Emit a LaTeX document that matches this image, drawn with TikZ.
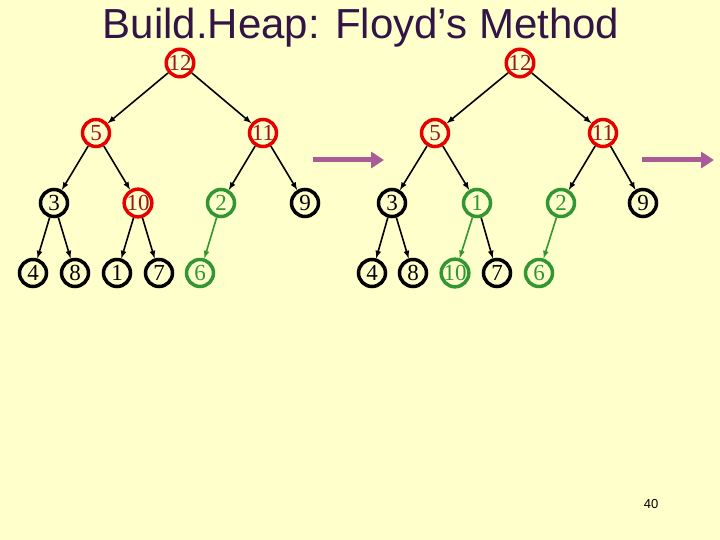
\documentclass[tikz,border=0pt]{standalone}
\usepackage{fontspec}
\setmainfont{Liberation Serif}
\newfontfamily\titlefont{Liberation Sans}
\usetikzlibrary{arrows.meta}
\definecolor{bg}{RGB}{255,255,204}
\definecolor{hred}{RGB}{230,0,0}
\definecolor{hredtxt}{RGB}{160,20,20}
\definecolor{hgreen}{RGB}{50,150,50}
\definecolor{ttl}{RGB}{50,20,70}
\definecolor{arr}{RGB}{170,90,150}
\begin{document}
\begin{tikzpicture}[x=1pt,y=-1pt,
  hn/.style={circle,draw=black,line width=3.5pt,minimum size=27pt,inner sep=0pt,font=\fontsize{23}{23}\selectfont,text=black},
  rn/.style={hn,draw=hred,text=hredtxt},
  gn/.style={hn,draw=hgreen,text=hgreen},
  ed/.style={-latex,line width=1.6pt,black},
  ge/.style={-latex,line width=1.6pt,hgreen},
  bigarr/.style={-{Triangle[length=13pt,width=16pt]},line width=5pt,arr}]
\fill[bg] (0,0) rectangle (720,540);
\useasboundingbox (0,0) rectangle (720,540);
\node[font=\titlefont\fontsize{42}{42}\selectfont,text=ttl] (title) at (361,28) {Build.Heap: Floyd’s Method};
% left tree
\node[rn] (a1) at (180,63) {12};
\node[rn] (a2) at (96,133) {5};
\node[rn] (a3) at (263,133) {11};
\node[hn] (a4) at (54,203) {3};
\node[rn] (a5) at (138,203) {10};
\node[gn] (a6) at (221,203) {2};
\node[hn] (a7) at (305,203) {9};
\node[hn] (a8) at (33,273) {4};
\node[hn] (a9) at (75,273) {8};
\node[hn] (a10) at (117,273) {1};
\node[hn] (a11) at (159,273) {7};
\node[gn] (a12) at (200,273) {6};
\draw[ed] (a1)--(a2); \draw[ed] (a1)--(a3);
\draw[ed] (a2)--(a4); \draw[ed] (a2)--(a5);
\draw[ed] (a3)--(a6); \draw[ed] (a3)--(a7);
\draw[ed] (a4)--(a8); \draw[ed] (a4)--(a9);
\draw[ed] (a5)--(a10); \draw[ed] (a5)--(a11);
\draw[ge] (a6)--(a12);
% right tree
\node[rn] (b1) at (520,63) {12};
\node[rn] (b2) at (435,133) {5};
\node[rn] (b3) at (603,133) {11};
\node[hn] (b4) at (392,203) {3};
\node[gn] (b5) at (477,203) {1};
\node[gn] (b6) at (561,203) {2};
\node[hn] (b7) at (643,203) {9};
\node[hn] (b8) at (372,273) {4};
\node[hn] (b9) at (413,273) {8};
\node[gn] (b10) at (455,273) {10};
\node[hn] (b11) at (497,273) {7};
\node[gn] (b12) at (539,273) {6};
\draw[ed] (b1)--(b2); \draw[ed] (b1)--(b3);
\draw[ed] (b2)--(b4); \draw[ed] (b2)--(b5);
\draw[ed] (b3)--(b6); \draw[ed] (b3)--(b7);
\draw[ed] (b4)--(b8); \draw[ed] (b4)--(b9);
\draw[ge] (b5)--(b10); \draw[ed] (b5)--(b11);
\draw[ge] (b6)--(b12);
% arrows
\coordinate (p1) at (313,160); \coordinate (p2) at (384,160);
\coordinate (q1) at (642,160); \coordinate (q2) at (714,160);
\draw[bigarr] (p1)--(p2);
\draw[bigarr] (q1)--(q2);
\node[font=\titlefont\fontsize{13}{13}\selectfont] (pg) at (651,504) {40};
\end{tikzpicture}
\end{document}
